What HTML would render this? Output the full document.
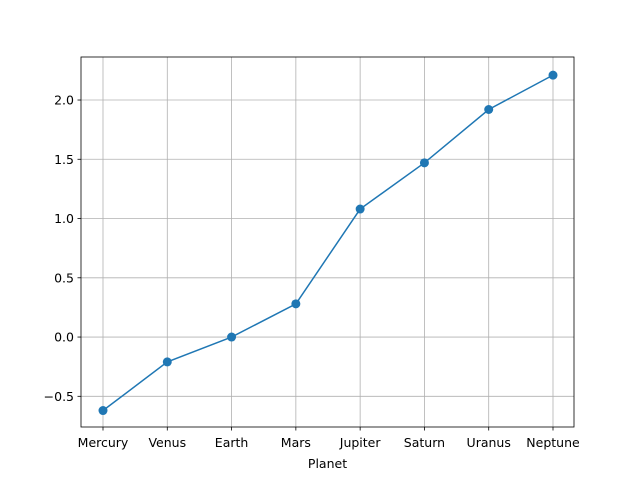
<!DOCTYPE html>
<html><head><meta charset="utf-8"><style>
body{margin:0;background:#fff}
svg{font-family:"DejaVu Sans","Liberation Sans",sans-serif}
</style></head><body>
<svg id="chart" width="640" height="480"></svg>
<script>
const categories=["Mercury","Venus","Earth","Mars","Jupiter","Saturn","Uranus","Neptune"];
const values=[-0.62,-0.21,0.0,0.28,1.08,1.47,1.92,2.21];
const yTicks=[-0.5,0.0,0.5,1.0,1.5,2.0];
const yTickLabels=["\u22120.5","0.0","0.5","1.0","1.5","2.0"];
const NS="http://www.w3.org/2000/svg";
const svg=document.getElementById('chart');
const L=81,R=574,T=57,B=427;
const yMin=-0.759,yMax=2.363;
const xS=i=>103+i*(553-103)/(categories.length-1);
const yS=v=>B-(v-yMin)/(yMax-yMin)*(B-T);
function mk(tag,attrs,txt){const e=document.createElementNS(NS,tag);for(const k in attrs)e.setAttribute(k,attrs[k]);if(txt!==undefined)e.textContent=txt;svg.appendChild(e);return e;}
categories.forEach((c,i)=>{
  const x=xS(i);
  const g=mk('line',{x1:x,x2:x,y1:T,y2:B,stroke:'#b0b0b0','stroke-width':0.8});
  
  
  const t=mk('line',{x1:x,x2:x,y1:B,y2:B+3.5,stroke:'#000','stroke-width':0.8});
  
  
  const l=mk('text',{x:x,y:B+20,'text-anchor':'middle','font-size':12.5},c);
  
  
});
yTicks.forEach((v,i)=>{
  const y=yS(v);
  const g=mk('line',{x1:L,x2:R,y1:y,y2:y,stroke:'#b0b0b0','stroke-width':0.8});
  
  
  const t=mk('line',{x1:L-3.5,x2:L,y1:y,y2:y,stroke:'#000','stroke-width':0.8});
  
  
  const l=mk('text',{x:L-7,y:y+4.5,'text-anchor':'end','font-size':12.5},yTickLabels[i]);
  
  
});
const line=mk('polyline',{points:values.map((v,i)=>xS(i)+','+yS(v)).join(' '),fill:'none',stroke:'#1f77b4','stroke-width':1.5});


values.forEach((v,i)=>{
  const p=mk('circle',{cx:xS(i),cy:yS(v),r:4.5,fill:'#1f77b4'});
  
  
});
const frame=mk('rect',{x:L,y:T,width:R-L,height:B-T,fill:'none',stroke:'#000','stroke-width':0.8});


const xt=mk('text',{x:(L+R)/2,y:468,'text-anchor':'middle','font-size':12.5},'Planet');


</script>
</body></html>
